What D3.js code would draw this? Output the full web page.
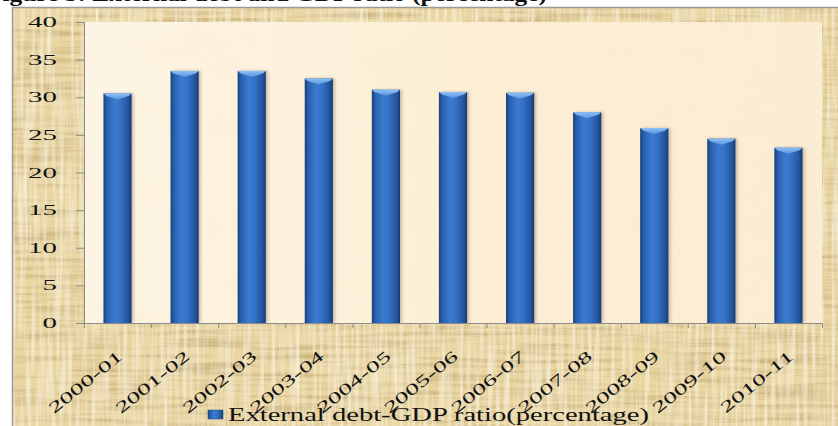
<!DOCTYPE html>
<html>
<head>
<meta charset="utf-8">
<script src="https://cdn.jsdelivr.net/npm/d3@7"></script>
<style>
  html, body { margin: 0; padding: 0; background: #ffffff; }
  svg { display: block; }
  text { font-family: "Liberation Serif", "Times New Roman", serif; fill: #111; }
</style>
</head>
<body>
<svg id="chart" width="838" height="426"></svg>
<script>
// External debt to GDP ratio, India, by fiscal year
const years = ["2000-01", "2001-02", "2002-03", "2003-04", "2004-05", "2005-06",
               "2006-07", "2007-08", "2008-09", "2009-10", "2010-11"];
const debtRatio = [30.5, 33.5, 33.5, 32.5, 31.0, 30.7, 30.6, 28.0, 25.9, 24.5, 23.3];
const yTicks = [0, 5, 10, 15, 20, 25, 30, 35, 40];
const titleText = "Figure 5: External debt and GDP ratio (percentage)";
const legendText = "External debt-GDP ratio(percentage)";

const svg = d3.select("#chart");
const W = 838, H = 426;
const frame = { x: 12, y: 7 };
const plot = { left: 84, right: 822, top: 22, bottom: 323 };

const defs = svg.append("defs");

// papyrus-like texture for the outer frame
const paper = defs.append("filter").attr("id", "paper")
  .attr("x", 0).attr("y", 0).attr("width", "100%").attr("height", "100%");
paper.append("feTurbulence").attr("type", "fractalNoise")
  .attr("baseFrequency", "0.012 0.22").attr("numOctaves", 3).attr("seed", 4).attr("result", "n1");
paper.append("feColorMatrix").attr("in", "n1").attr("type", "matrix")
  .attr("values", "0 0 0 0 0.55  0 0 0 0 0.40  0 0 0 0 0.16  1.8 0 0 0 -0.76").attr("result", "dark");
paper.append("feTurbulence").attr("type", "fractalNoise")
  .attr("baseFrequency", "0.25 0.012").attr("numOctaves", 2).attr("seed", 9).attr("result", "n2");
paper.append("feColorMatrix").attr("in", "n2").attr("type", "matrix")
  .attr("values", "0 0 0 0 1  0 0 0 0 0.96  0 0 0 0 0.84  1.6 0 0 0 -0.66").attr("result", "light");
paper.append("feMerge").call(m => {
  m.append("feMergeNode").attr("in", "dark");
  m.append("feMergeNode").attr("in", "light");
});

// soft cloudiness for the plot area
const cloud = defs.append("filter").attr("id", "cloud")
  .attr("x", 0).attr("y", 0).attr("width", "100%").attr("height", "100%");
cloud.append("feTurbulence").attr("type", "fractalNoise")
  .attr("baseFrequency", "0.012 0.03").attr("numOctaves", 2).attr("seed", 2).attr("result", "n");
cloud.append("feColorMatrix").attr("in", "n").attr("type", "matrix")
  .attr("values", "0 0 0 0 0.93  0 0 0 0 0.82  0 0 0 0 0.62  1.0 0 0 0 -0.45");

// cylinder shading across each bar
const barGrad = defs.append("linearGradient").attr("id", "barGrad")
  .attr("x1", "0%").attr("x2", "100%").attr("y1", "0%").attr("y2", "0%");
[["0%", "#173f78"], ["12%", "#2a5fae"], ["40%", "#3b7bd0"], ["60%", "#3572c6"],
 ["88%", "#24549e"], ["100%", "#163a70"]]
  .forEach(([o, c]) => barGrad.append("stop").attr("offset", o).attr("stop-color", c));

const capGrad = defs.append("linearGradient").attr("id", "capGrad")
  .attr("x1", "0%").attr("x2", "0%").attr("y1", "0%").attr("y2", "100%");
capGrad.append("stop").attr("offset", "0%").attr("stop-color", "#8fc0f5");
capGrad.append("stop").attr("offset", "100%").attr("stop-color", "#5a95e0");

const plotGrad = defs.append("linearGradient").attr("id", "plotGrad")
  .attr("x1", "0%").attr("x2", "100%").attr("y1", "0%").attr("y2", "0%");
plotGrad.append("stop").attr("offset", "0%").attr("stop-color", "#fdf5e4");
plotGrad.append("stop").attr("offset", "50%").attr("stop-color", "#fcefd6");
plotGrad.append("stop").attr("offset", "100%").attr("stop-color", "#fbedd3");

const shadow = defs.append("filter").attr("id", "shadow")
  .attr("x", "-20%").attr("y", "-5%").attr("width", "150%").attr("height", "115%");
shadow.append("feDropShadow").attr("dx", 2).attr("dy", 0).attr("stdDeviation", 1.5)
  .attr("flood-color", "#6b5a3a").attr("flood-opacity", 0.35);

// title line sits above the frame and runs off the top edge
svg.append("text")
  .attr("x", -13).attr("y", 1)
  .attr("textLength", 560).attr("lengthAdjust", "spacingAndGlyphs")
  .style("font-size", "21px").style("font-weight", "bold")
  .text(titleText);

// outer frame
svg.append("rect").attr("x", frame.x).attr("y", frame.y)
  .attr("width", W - frame.x + 2).attr("height", H - frame.y + 2)
  .attr("fill", "#e9d6a3");
svg.append("rect").attr("x", frame.x).attr("y", frame.y)
  .attr("width", W - frame.x + 2).attr("height", H - frame.y + 2)
  .attr("fill", "#000").attr("filter", "url(#paper)");
svg.append("rect").attr("x", frame.x + 0.5).attr("y", frame.y + 0.5)
  .attr("width", W - frame.x + 2).attr("height", H - frame.y + 2)
  .attr("fill", "none").attr("stroke", "#9a9a96").attr("stroke-width", 1.5);

// plot area
svg.append("rect").attr("x", plot.left).attr("y", plot.top)
  .attr("width", plot.right - plot.left).attr("height", plot.bottom - plot.top)
  .attr("fill", "url(#plotGrad)");
svg.append("rect").attr("x", plot.left).attr("y", plot.top)
  .attr("width", plot.right - plot.left).attr("height", plot.bottom - plot.top)
  .attr("fill", "#000").attr("filter", "url(#cloud)").attr("opacity", 0.45);

// scales
const x = d3.scaleBand().domain(years)
  .range([plot.left, plot.right]).paddingInner(0.58).paddingOuter(0.29);
const xEdge = d3.scaleLinear().domain([0, years.length]).range([plot.left, plot.right]);
const y = d3.scaleLinear().domain([0, 40]).range([plot.bottom, plot.top]);

// bars
const bars = svg.append("g").selectAll("g.bar").data(years.map((k, i) => ({ k, v: debtRatio[i] })))
  .join("g").attr("class", "bar");
bars.append("rect")
  .attr("x", d => x(d.k)).attr("y", d => y(d.v))
  .attr("width", x.bandwidth()).attr("height", d => y(0) - y(d.v))
  .attr("fill", "url(#barGrad)").attr("filter", "url(#shadow)");
bars.append("path")
  .attr("d", d => {
    const x0 = x(d.k), w = x.bandwidth(), t = y(d.v);
    return `M${x0},${t} L${x0 + w},${t} L${x0 + w - 3},${t + 2.5} L${x0 + w / 2},${t + 6} L${x0 + 3},${t + 2.5} Z`;
  })
  .attr("fill", "url(#capGrad)");

// y axis
const yAxis = svg.append("g").attr("transform", `translate(${plot.left},0)`)
  .call(d3.axisLeft(y).tickValues(yTicks).tickSize(8).tickFormat(""));
yAxis.select(".domain").attr("stroke", "#8c8c8c");
yAxis.selectAll(".tick line").attr("stroke", "#8c8c8c");

const digitW = 14.5;
svg.append("g").selectAll("text").data(yTicks).join("text")
  .attr("x", d => 57 - String(d).length * digitW)
  .attr("y", d => y(d) + 5)
  .attr("textLength", d => String(d).length * digitW)
  .attr("lengthAdjust", "spacingAndGlyphs")
  .style("font-size", "15px")
  .text(d => d);

// x axis with tick marks at category edges
const xAxis = svg.append("g").attr("transform", `translate(0,${plot.bottom})`)
  .call(d3.axisBottom(xEdge).tickValues(d3.range(years.length + 1)).tickSize(5).tickFormat(""));
xAxis.select(".domain").attr("stroke", "#8c8c8c");
xAxis.selectAll(".tick line").attr("stroke", "#8c8c8c");

// slanted, wide-set category labels ending just right of each bar centre
svg.append("g").selectAll("text").data(years).join("text")
  .attr("transform", d => `translate(${x(d) + x.bandwidth() / 2 + 6},${plot.bottom + 35}) rotate(-39) scale(1.68,1)`)
  .attr("text-anchor", "end")
  .style("font-size", "16px")
  .text(d => d);

// legend
svg.append("rect").attr("x", 208).attr("y", 410).attr("width", 15).attr("height", 9)
  .attr("fill", "url(#barGrad)").attr("stroke", "#1d4a8a").attr("stroke-width", 0.5);
svg.append("text").attr("x", 228).attr("y", 421)
  .attr("textLength", 421).attr("lengthAdjust", "spacingAndGlyphs")
  .style("font-size", "18px")
  .text(legendText);
</script>
</body>
</html>
